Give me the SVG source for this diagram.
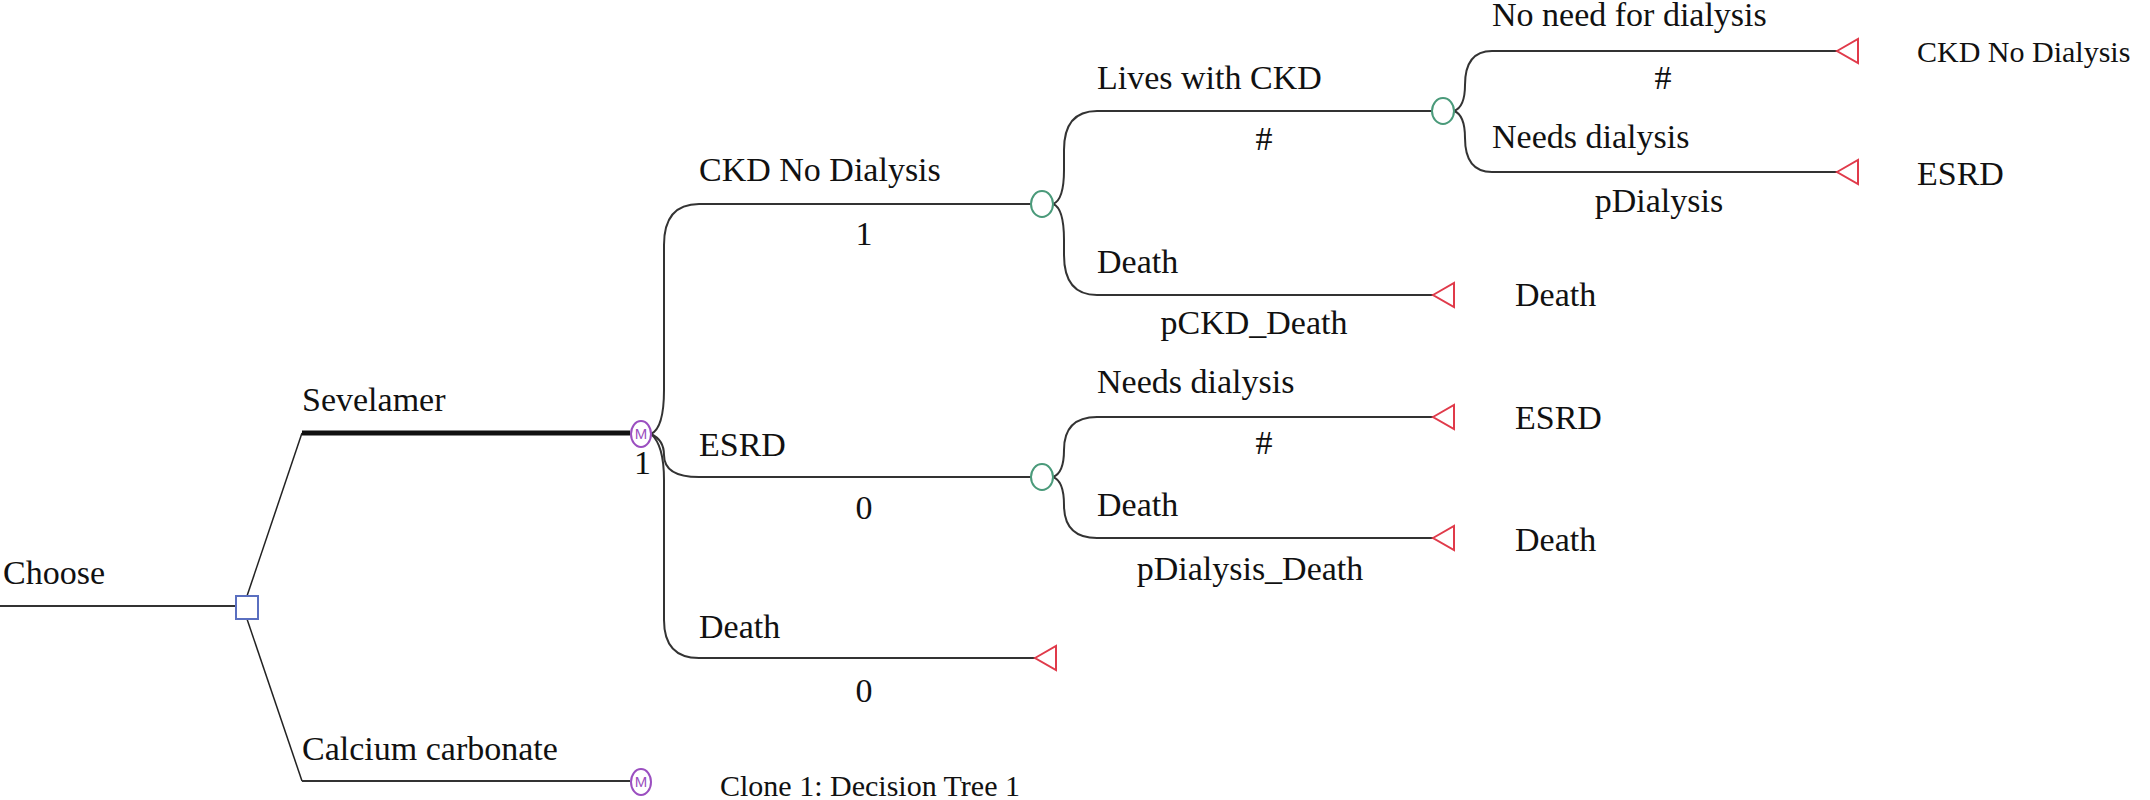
<svg xmlns="http://www.w3.org/2000/svg" width="2150" height="800" viewBox="0 0 2150 800">
<style>
text{font-family:"Liberation Serif","Times New Roman",serif;font-size:34px;fill:#111}
.m{text-anchor:middle}
.br{fill:none;stroke:#333;stroke-width:2}
.thin{fill:none;stroke:#222;stroke-width:1.5}
.term{fill:#fff;stroke:#e03a4a;stroke-width:2}
.ch{fill:#fff;stroke:#4a9a7a;stroke-width:2}
.mk{fill:#fff;stroke:#9b4fc0;stroke-width:2}
.mt{font-family:"Liberation Sans",sans-serif;font-size:15px;fill:#9b4fc0;text-anchor:middle}
</style>
<rect width="2150" height="800" fill="#fff"/>
<g id="connectors">
<path class="br" d="M0,606 L235,606"/>
<path class="thin" d="M247,596 L302,433"/>
<path d="M302,433 L630,433" fill="none" stroke="#111" stroke-width="5"/>
<path class="thin" d="M247,619 L302,781"/>
<path class="br" d="M302,781 L630,781"/>
<path class="br" d="M651,434 Q664,428 664,390 L664,245 Q664,204 699,204 L1031,204"/>
<path class="br" d="M651,434 Q664,440 664,455 Q664,477 699,477 L1031,477"/>
<path class="br" d="M651,434 Q664,445 664,480 L664,620 Q664,658 699,658 L1035,658"/>
<path class="br" d="M1053,204 Q1064,200 1064,170 L1064,150 Q1064,111 1097,111 L1432,111"/>
<path class="br" d="M1053,204 Q1064,208 1064,240 L1064,255 Q1064,295 1097,295 L1433,295"/>
<path class="br" d="M1053,477 Q1064,473 1064,450 Q1064,417 1097,417 L1433,417"/>
<path class="br" d="M1053,477 Q1064,481 1064,505 Q1064,538 1097,538 L1433,538"/>
<path class="br" d="M1454,111 Q1465,107 1465,85 Q1465,51 1492,51 L1837,51"/>
<path class="br" d="M1454,111 Q1465,115 1465,138 Q1465,172 1492,172 L1837,172"/>
</g>
<g id="n-choose"><rect x="236" y="596" width="22" height="23" fill="#fff" stroke="#5a6fc0" stroke-width="2"/><text x="3" y="584">Choose</text></g>
<g id="n-sevelamer"><text x="302" y="411">Sevelamer</text></g>
<g id="n-markov1"><ellipse cx="641" cy="434" rx="10" ry="13" class="mk"/><text class="mt" x="641" y="439">M</text><text x="634" y="474">1</text></g>
<g id="n-calcium"><text x="302" y="760">Calcium carbonate</text></g>
<g id="n-markov2"><ellipse cx="641" cy="782" rx="10" ry="13" class="mk"/><text class="mt" x="641" y="787">M</text><text x="720" y="796" style="font-size:30px">Clone 1: Decision Tree 1</text></g>
<g id="n-ckd"><text x="699" y="181">CKD No Dialysis</text><text class="m" x="864" y="245">1</text><ellipse cx="1042" cy="204" rx="11" ry="13" class="ch"/></g>
<g id="n-esrd"><text x="699" y="456">ESRD</text><text class="m" x="864" y="519">0</text><ellipse cx="1042" cy="477" rx="11" ry="13" class="ch"/></g>
<g id="n-death1"><text x="699" y="638">Death</text><text class="m" x="864" y="702">0</text><polygon class="term" points="1035,658 1056,646 1056,670"/></g>
<g id="n-lives"><text x="1097" y="89">Lives with CKD</text><text class="m" x="1264" y="150">#</text><ellipse cx="1443" cy="111" rx="11" ry="13" class="ch"/></g>
<g id="n-ckddeath"><text x="1097" y="273">Death</text><text class="m" x="1254" y="334">pCKD_Death</text><polygon class="term" points="1433,295 1454,283 1454,307"/><text x="1515" y="306">Death</text></g>
<g id="n-noneed"><text x="1492" y="26">No need for dialysis</text><text class="m" x="1663" y="89">#</text><polygon class="term" points="1837,51 1858,39 1858,63"/><text x="1917" y="62" style="font-size:30px">CKD No Dialysis</text></g>
<g id="n-needs1"><text x="1492" y="148">Needs dialysis</text><text class="m" x="1659" y="212">pDialysis</text><polygon class="term" points="1837,172 1858,160 1858,184"/><text x="1917" y="185">ESRD</text></g>
<g id="n-needs2"><text x="1097" y="393">Needs dialysis</text><text class="m" x="1264" y="454">#</text><polygon class="term" points="1433,417 1454,405 1454,429"/><text x="1515" y="429">ESRD</text></g>
<g id="n-esrddeath"><text x="1097" y="516">Death</text><text class="m" x="1250" y="580">pDialysis_Death</text><polygon class="term" points="1433,538 1454,526 1454,550"/><text x="1515" y="551">Death</text></g>
</svg>
